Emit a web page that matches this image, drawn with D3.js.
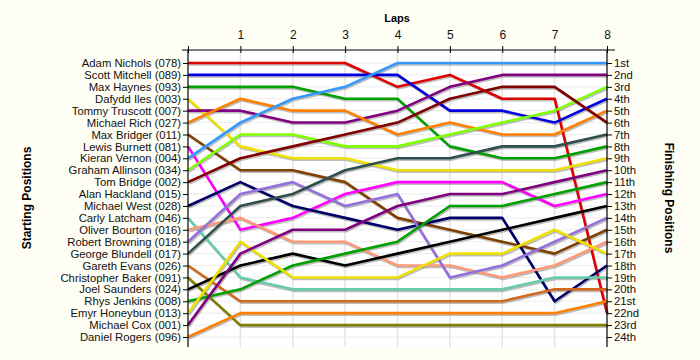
<!DOCTYPE html>
<html><head><meta charset="utf-8">
<script src="https://cdn.jsdelivr.net/npm/d3@7"></script>
<style>
body{margin:0;background:#fffef4;}
svg{display:block;font-family:"Liberation Sans",Arial,sans-serif;}
</style></head>
<body><svg id="c" width="700" height="360"></svg>
<script>
const laps = [0,1,2,3,4,5,6,7,8];
const lapTickLabels = ["","1","2","3","4","5","6","7","8"];
const drivers = ["Adam Nichols (078)","Scott Mitchell (089)","Max Haynes (093)","Dafydd Iles (003)","Tommy Truscott (007)","Michael Rich (027)","Max Bridger (011)","Lewis Burnett (081)","Kieran Vernon (004)","Graham Allinson (034)","Tom Bridge (002)","Alan Hackland (015)","Michael West (028)","Carly Latcham (046)","Oliver Bourton (016)","Robert Browning (018)","George Blundell (017)","Gareth Evans (026)","Christopher Baker (091)","Joel Saunders (024)","Rhys Jenkins (008)","Emyr Honeybun (013)","Michael Cox (001)","Daniel Rogers (096)"];
const finishLabels = ["1st","2nd","3rd","4th","5th","6th","7th","8th","9th","10th","11th","12th","13th","14th","15th","16th","17th","18th","19th","20th","21st","22nd","23rd","24th"];
const colors = ["#e00000","#0000e0","#00a000","#f0e000","#800080","#ff8000","#804000","#ff00ff","#3399ff","#80ff00","#800000","transparent","#000066","#66ccaa","#ff9977","#9370db","#2f4f4f","#d2691e","#808000","#000000","#00a000","#f0e000","#800080","#ff8000"];
const positions = [
 [1,1,1,1,3,2,4,4,22],
 [2,2,2,2,2,5,5,6,4],
 [3,3,3,4,4,8,9,9,8],
 [4,8,9,9,10,10,10,10,9],
 [5,5,6,6,5,3,2,2,2],
 [6,4,5,5,7,6,7,7,5],
 [7,10,10,11,14,15,16,17,15],
 [8,15,14,12,11,11,11,13,12],
 [9,6,4,3,1,1,1,1,1],
 [10,7,7,8,8,7,6,5,3],
 [11,9,8,7,6,4,3,3,6],
 [12,24,24,24,24,24,24,24,24],
 [13,11,13,14,15,14,14,21,18],
 [14,19,20,20,20,20,20,19,19],
 [15,14,16,16,18,18,19,18,16],
 [16,12,11,13,12,19,18,16,14],
 [17,13,12,10,9,9,8,8,7],
 [18,21,21,21,21,21,21,20,20],
 [19,23,23,23,23,23,23,23,23],
 [20,18,17,18,17,16,15,14,13],
 [21,20,18,17,16,13,13,12,11],
 [22,16,19,19,19,17,17,15,17],
 [23,17,15,15,13,12,12,11,10],
 [24,22,22,22,22,22,22,22,21]
];

const svg = d3.select("#c");
const x = d3.scaleLinear().domain([0,8]).range([188,607]);
const y = d3.scaleLinear().domain([1,24]).range([63,337]);
const topY = 50, bottomY = 347;

svg.append("rect").attr("x",x(0)).attr("y",topY).attr("width",x(8)-x(0)).attr("height",bottomY-topY).attr("fill","#ffffff");

const g = svg.append("g");
g.selectAll(".vg").data(laps.slice(1,8)).join("line")
 .attr("x1",d=>x(d)).attr("x2",d=>x(d)).attr("y1",topY).attr("y2",bottomY)
 .attr("stroke","#e4e4e4").attr("stroke-width",1.5);
g.selectAll(".hg").data(d3.range(1,25)).join("line")
 .attr("x1",x(0)).attr("x2",x(8)).attr("y1",d=>y(d)).attr("y2",d=>y(d))
 .attr("stroke","#ececec").attr("stroke-width",1);

const line = d3.line().x((d,i)=>x(laps[i])).y(d=>y(d));

svg.append("g").attr("transform","translate(1,1.5)")
 .selectAll("path").data(positions.filter((p,i)=>colors[i]!=="transparent")).join("path")
 .attr("d",line).attr("fill","none").attr("stroke","#888").attr("stroke-opacity",0.55)
 .attr("stroke-width",2.6).attr("stroke-linejoin","round");

svg.append("g").selectAll("path").data(positions).join("path")
 .attr("d",line).attr("fill","none").attr("stroke",(d,i)=>colors[i])
 .attr("stroke-width",2.6).attr("stroke-linejoin","round");

const xAxis = d3.axisTop(x).tickValues(laps).tickFormat((d,i)=>lapTickLabels[i]).tickSizeInner(4).tickSizeOuter(0);
const ax = svg.append("g").attr("transform",`translate(0,${topY})`).call(xAxis);
ax.select(".domain").remove();
ax.append("line").attr("x1",182).attr("x2",615).attr("y1",0).attr("y2",0).attr("stroke","#000").attr("stroke-width",1.2);
ax.selectAll(".tick line").attr("y2",-4).attr("y1",3).attr("stroke","#000");
ax.selectAll(".tick text").attr("font-size",12).attr("fill","#111").attr("dy",-4);

const yL = d3.axisLeft(y).tickValues(d3.range(1,25)).tickFormat(d=>drivers[d-1]).tickSize(5).tickSizeOuter(0);
const la = svg.append("g").attr("transform",`translate(${x(0)},0)`).call(yL);
la.select(".domain").remove();
la.append("line").attr("x1",0).attr("x2",0).attr("y1",topY).attr("y2",bottomY).attr("stroke","#000").attr("stroke-width",1.2);
la.selectAll(".tick text").attr("font-size",11.3).attr("fill","#111").attr("x",-7);
la.selectAll(".tick line").attr("stroke","#000");

const yR = d3.axisRight(y).tickValues(d3.range(1,25)).tickFormat(d=>finishLabels[d-1]).tickSize(5).tickSizeOuter(0);
const ra = svg.append("g").attr("transform",`translate(${x(8)},0)`).call(yR);
ra.select(".domain").remove();
ra.append("line").attr("x1",0).attr("x2",0).attr("y1",topY).attr("y2",bottomY).attr("stroke","#000").attr("stroke-width",1.2);
ra.selectAll(".tick text").attr("font-size",11.3).attr("fill","#111").attr("x",7);
ra.selectAll(".tick line").attr("stroke","#000");

svg.append("text").attr("x",397).attr("y",22).attr("text-anchor","middle").attr("font-weight","bold").attr("font-size",11).text("Laps");
svg.append("text").attr("transform","translate(31,198) rotate(-90)").attr("text-anchor","middle").attr("font-weight","bold").attr("font-size",12).text("Starting Positions");
svg.append("text").attr("transform","translate(665,198) rotate(90)").attr("text-anchor","middle").attr("font-weight","bold").attr("font-size",12).text("Finishing Positions");
</script></body></html>
